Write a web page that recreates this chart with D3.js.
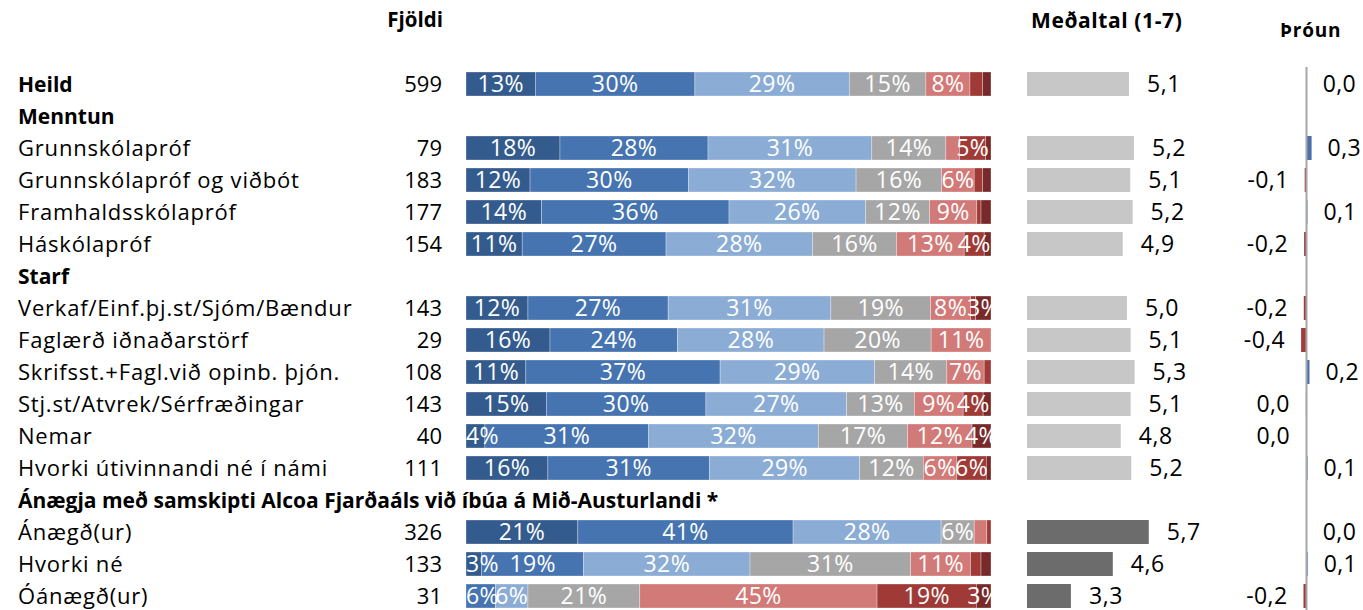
<!DOCTYPE html>
<html>
<head>
<meta charset="utf-8">
<script src="https://cdn.jsdelivr.net/npm/d3@7"></script>
<style>
  body { margin: 0; background: #fff; }
  text { font-family: "Open Sans", sans-serif; }
</style>
</head>
<body>
<div id="chart"></div>
<script>
// rows of the table, top to bottom (section headers have no data)
var rowLabels = ["Heild", "Menntun", "Grunnskólapróf", "Grunnskólapróf og viðbót", "Framhaldsskólapróf", "Háskólapróf",
  "Starf", "Verkaf/Einf.þj.st/Sjóm/Bændur", "Faglærð iðnaðarstörf", "Skrifsst.+Fagl.við opinb. þjón.", "Stj.st/Atvrek/Sérfræðingar",
  "Nemar", "Hvorki útivinnandi né í námi", "Ánægja með samskipti Alcoa Fjarðaáls við íbúa á Mið-Austurlandi *",
  "Ánægð(ur)", "Hvorki né", "Óánægð(ur)"];
var boldRows = ["Heild", "Menntun", "Starf", "Ánægja með samskipti Alcoa Fjarðaáls við íbúa á Mið-Austurlandi *"];
var counts = [599, null, 79, 183, 177, 154, null, 143, 29, 108, 143, 40, 111, null, 326, 133, 31];

// answer shares in %, scale point 7 (best) down to 1
var p7 = [13.2, null, 17.9, 12.2, 14.4, 10.7, null, 11.8, 16.0, 11.4, 15.3, 3.6, 15.6, null, 21.3, 3.0, 0];
var p6 = [30.4, null, 28.2, 30.2, 35.7, 27.4, null, 26.7, 24.3, 37.0, 30.4, 31.2, 30.8, null, 41.0, 19.4, 5.6];
var p5 = [29.4, null, 31.2, 31.9, 26.0, 27.9, null, 31.0, 27.9, 29.4, 26.8, 32.3, 28.6, null, 28.2, 31.7, 6.2];
var p4 = [14.6, null, 14.1, 16.3, 12.2, 16.0, null, 19.0, 20.4, 13.8, 12.9, 17.0, 12.1, null, 6.3, 30.6, 21.3];
var p3 = [8.4, null, 2.6, 6.2, 9.0, 12.9, null, 7.6, 11.4, 7.1, 9.3, 12.3, 6.4, null, 2.4, 11.4, 45.2];
var p2 = [2.4, null, 5.0, 1.6, 0.8, 3.8, null, 1.0, 0, 1.3, 3.8, 0, 5.6, null, 0.8, 2.0, 18.9];
var p1 = [1.6, null, 1.0, 1.6, 1.9, 1.3, null, 2.9, 0, 0, 1.5, 3.6, 0.9, null, 0, 1.9, 2.8];

var means = [5.09, null, 5.24, 5.13, 5.2, 4.9, null, 5.03, 5.14, 5.26, 5.14, 4.84, 5.16, null, 5.69, 4.6, 3.33];
var trend = [0.01, null, 0.34, -0.12, 0.06, -0.16, null, -0.18, -0.36, 0.2, -0.04, -0.03, 0.07, null, 0.02, 0.08, -0.2];

var segColors = ["#335b8d", "#4574b1", "#8badd5", "#a6a6a6", "#d17a77", "#9f3a37", "#772a29"];

var width = 1363, height = 610;
var locale = d3.formatLocale({decimal: ",", thousands: ".", grouping: [3], currency: ["", ""], minus: "-"});
var f1 = locale.format(".1f");

var svg = d3.select("#chart").append("svg")
  .attr("width", width)
  .attr("height", height);

var y = d3.scalePoint()
  .domain(d3.range(rowLabels.length))
  .range([84, 596]);
var barH = 24;

var x = d3.scaleLinear().domain([0, 100]).range([466, 991]);
var xMean = d3.scaleLinear().domain([2, 7]).range([1027, 1192]);
var xTrend = d3.scaleLinear().domain([-1, 1]).range([1306.5 - 15, 1306.5 + 15]);

// headers
svg.append("text")
  .attr("x", 443).attr("y", 20).attr("dy", "0.36em")
  .attr("text-anchor", "end")
  .style("font-size", "20.5px").style("font-weight", "bold")
  .text("Fjöldi");
svg.append("text")
  .attr("x", 1031).attr("y", 20).attr("dy", "0.36em")
  .style("font-size", "21px").style("font-weight", "bold").style("letter-spacing", "0.6px")
  .text("Meðaltal (1-7)");
svg.append("text")
  .attr("x", 1280).attr("y", 30).attr("dy", "0.36em")
  .style("font-size", "19px").style("font-weight", "bold").style("letter-spacing", "0.8px")
  .text("Þróun");

// row labels and counts
svg.selectAll("text.label").data(rowLabels)
  .enter().append("text")
  .attr("class", "label")
  .attr("x", 18)
  .attr("y", function(d, i) { return y(i); })
  .attr("dy", "0.36em")
  .each(function(d) {
    var bold = boldRows.indexOf(d) >= 0;
    d3.select(this)
      .style("font-size", bold ? "21px" : "22px")
      .style("font-weight", bold ? "bold" : "normal")
      .style("letter-spacing", bold ? "0px" : "0.8px");
  })
  .text(function(d) { return d; });

svg.selectAll("text.count").data(counts)
  .enter().append("text")
  .attr("class", "count")
  .attr("x", 442)
  .attr("y", function(d, i) { return y(i); })
  .attr("dy", "0.36em")
  .attr("text-anchor", "end")
  .style("font-size", "22px")
  .text(function(d) { return d == null ? "" : d; });

// stacked bars
var series = [p7, p6, p5, p4, p3, p2, p1];
var dataRows = d3.range(rowLabels.length).filter(function(i) { return p7[i] != null; });

svg.append("clipPath").attr("id", "barclip")
  .append("rect").attr("x", x(0)).attr("y", 0).attr("width", x(100) - x(0)).attr("height", height);

var stackG = svg.append("g").attr("clip-path", "url(#barclip)");
dataRows.forEach(function(i) {
  var acc = 0;
  var segs = series.map(function(s, k) {
    var d = {v: s[i], x0: acc, k: k};
    acc += s[i];
    d.x1 = acc;
    return d;
  });
  var g = stackG.append("g");
  g.selectAll("rect").data(segs)
    .enter().append("rect")
    .attr("x", function(d) { return x(d.x0); })
    .attr("y", y(i) - barH / 2)
    .attr("width", function(d) { return x(d.x1) - x(d.x0); })
    .attr("height", barH)
    .style("fill", function(d) { return segColors[d.k]; })
    .style("stroke", "#fff").style("stroke-width", 0.6).style("stroke-opacity", 0.5);
  g.selectAll("text").data(segs.filter(function(d) { return d.v >= 2.75; }))
    .enter().append("text")
    .attr("y", y(i))
    .attr("dy", "0.36em")
    .attr("text-anchor", "middle")
    .style("font-size", "23px")
    .style("letter-spacing", "0.4px")
    .style("fill", "#fff")
    .text(function(d) { return Math.round(d.v) + "%"; })
    .attr("x", function(d) {
      // keep labels inside the left end of the bar
      var half = this.getComputedTextLength() / 2;
      return Math.max((x(d.x0) + x(d.x1)) / 2, x(0) + half);
    });
});

// mean bars
svg.selectAll("rect.mean").data(dataRows)
  .enter().append("rect")
  .attr("class", "mean")
  .attr("x", xMean(2))
  .attr("y", function(i) { return y(i) - barH / 2; })
  .attr("width", function(i) { return xMean(means[i]) - xMean(2); })
  .attr("height", barH)
  .style("fill", function(i) { return i >= 14 ? "#6c6c6c" : "#c7c7c7"; });

svg.selectAll("text.mean").data(dataRows)
  .enter().append("text")
  .attr("class", "mean")
  .attr("x", function(i) { return xMean(means[i]) + 18; })
  .attr("y", function(i) { return y(i); })
  .attr("dy", "0.36em")
  .style("font-size", "23px")
  .style("letter-spacing", "0.6px")
  .text(function(i) { return f1(means[i]); });

// trend bars
svg.selectAll("rect.trend").data(dataRows)
  .enter().append("rect")
  .attr("class", "trend")
  .attr("x", function(i) { return Math.min(xTrend(0), xTrend(trend[i])); })
  .attr("y", function(i) { return y(i) - barH / 2; })
  .attr("width", function(i) { return Math.abs(xTrend(trend[i]) - xTrend(0)); })
  .attr("height", barH)
  .style("fill", function(i) { return trend[i] < 0 ? "#a33b38" : "#4a70a6"; });

svg.append("line")
  .attr("x1", xTrend(0)).attr("x2", xTrend(0))
  .attr("y1", 67).attr("y2", height)
  .style("stroke", "#a3a6aa").style("stroke-width", 2);

svg.selectAll("text.trend").data(dataRows)
  .enter().append("text")
  .attr("class", "trend")
  .attr("x", function(i) { return trend[i] < 0 ? xTrend(trend[i]) - 16 : xTrend(trend[i]) + 16; })
  .attr("y", function(i) { return y(i); })
  .attr("dy", "0.36em")
  .attr("text-anchor", function(i) { return trend[i] < 0 ? "end" : "start"; })
  .style("font-size", "23px")
  .style("letter-spacing", "0.4px")
  .text(function(i) { return f1(trend[i]); });
</script>
</body>
</html>
